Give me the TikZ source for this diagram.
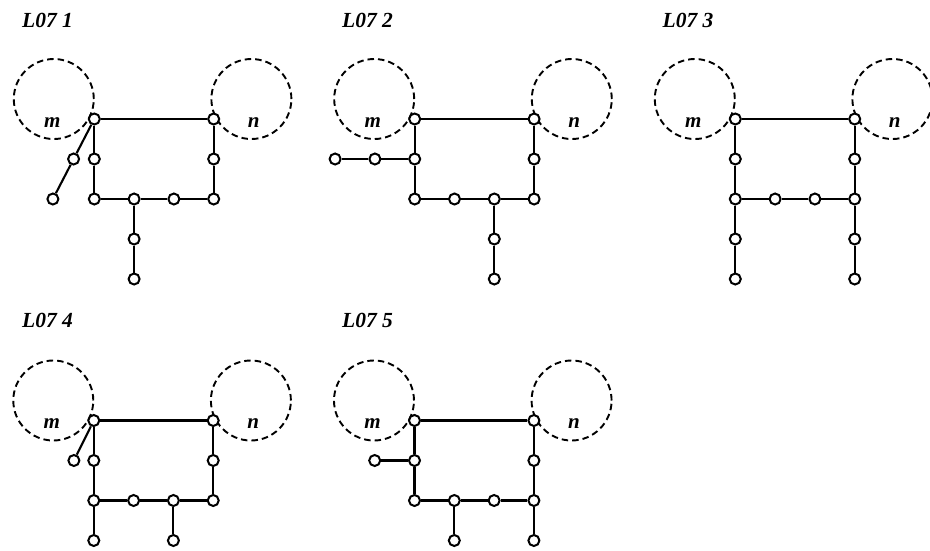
\documentclass[tikz,border=0pt]{standalone}
\usepackage{fontspec}
\setmainfont{Liberation Serif}
\tikzset{
  vtx/.style={circle, draw, fill=white, line width=2pt, inner sep=0pt, minimum size=11pt},
  conn/.style={line width=2.1pt},
  zone/.style={line width=1.9pt, dash pattern=on 6.5pt off 4pt},
  lbl/.style={font=\fontsize{21}{25}\selectfont\bfseries\itshape, inner sep=0pt, anchor=base},
  ttl/.style={font=\fontsize{21.5}{25}\selectfont\bfseries\itshape, inner sep=0pt, anchor=base west},
}
\newcommand\basepanel[1]{%
  \draw[zone] (-1.018,-0.5) circle[radius=40pt];
  \draw[zone] (3.947,-0.5) circle[radius=40pt];
  \node[lbl] (#1m) at (-1.055,0.2075) {m};
  \node[lbl] (#1n) at (4.005,0.2075) {n};
  \node[vtx] (#1A) at (0,0) {};
  \node[vtx] (#1B) at (3,0) {};
  \node[vtx] (#1L1) at (0,1) {};
  \node[vtx] (#1L2) at (0,2) {};
  \node[vtx] (#1R1) at (3,1) {};
  \node[vtx] (#1R2) at (3,2) {};
  \node[vtx] (#1X1) at (1,2) {};
  \node[vtx] (#1X2) at (2,2) {};
  \draw[conn] (#1A) -- (#1B) -- (#1R1) -- (#1R2) -- (#1X2) -- (#1X1) -- (#1L2) -- (#1L1) -- (#1A);
}
\begin{document}
\begin{tikzpicture}[x=1pt, y=-1pt]
\path[use as bounding box, clip] (0,0) rectangle (930,550);
\fill[white] (0,0) rectangle (930,550);

\node[ttl] (t1) at (22,27.3) {L07 1};
\node[ttl] (t2) at (342,27.3) {L07 2};
\node[ttl] (t3) at (662.5,27.3) {L07 3};
\node[ttl] (t4) at (22,327.8) {L07 4};
\node[ttl] (t5) at (342,327.8) {L07 5};

% Panel 1
\begin{scope}[shift={(94.3,119)}, x=39.8pt, y=-40pt]
  \basepanel{a}
  \node[vtx] (aS1) at (-0.52,1) {};
  \node[vtx] (aS2) at (-1.04,2) {};
  \node[vtx] (aD1) at (1,3) {};
  \node[vtx] (aD2) at (1,4) {};
  \draw[conn] (aA) -- (aS1) -- (aS2);
  \draw[conn] (aX1) -- (aD1) -- (aD2);
\end{scope}

% Panel 2
\begin{scope}[shift={(414.7,119)}, x=39.8pt, y=-40pt]
  \basepanel{b}
  \node[vtx] (bS1) at (-1,1) {};
  \node[vtx] (bS2) at (-2,1) {};
  \node[vtx] (bD1) at (2,3) {};
  \node[vtx] (bD2) at (2,4) {};
  \draw[conn] (bL1) -- (bS1) -- (bS2);
  \draw[conn] (bX2) -- (bD1) -- (bD2);
\end{scope}

% Panel 3
\begin{scope}[shift={(735.3,119)}, x=39.8pt, y=-40pt]
  \basepanel{c}
  \node[vtx] (cL3) at (0,3) {};
  \node[vtx] (cL4) at (0,4) {};
  \node[vtx] (cR3) at (3,3) {};
  \node[vtx] (cR4) at (3,4) {};
  \draw[conn] (cL2) -- (cL3) -- (cL4);
  \draw[conn] (cR2) -- (cR3) -- (cR4);
\end{scope}

% Panel 4
\begin{scope}[shift={(93.8,420.5)}, x=39.8pt, y=-40pt]
  \basepanel{d}
  \node[vtx] (dS1) at (-0.5,1) {};
  \node[vtx] (dL3) at (0,3) {};
  \node[vtx] (dD1) at (2,3) {};
  \draw[conn] (dA) -- (dS1);
  \draw[conn] (dL2) -- (dL3);
  \draw[conn] (dX2) -- (dD1);
\end{scope}

% Panel 5
\begin{scope}[shift={(414.5,420.5)}, x=39.8pt, y=-40pt]
  \basepanel{e}
  \node[vtx] (eS1) at (-1,1) {};
  \node[vtx] (eR3) at (3,3) {};
  \node[vtx] (eD1) at (1,3) {};
  \draw[conn] (eL1) -- (eS1);
  \draw[conn] (eR2) -- (eR3);
  \draw[conn] (eX1) -- (eD1);
\end{scope}
\end{tikzpicture}
\end{document}
